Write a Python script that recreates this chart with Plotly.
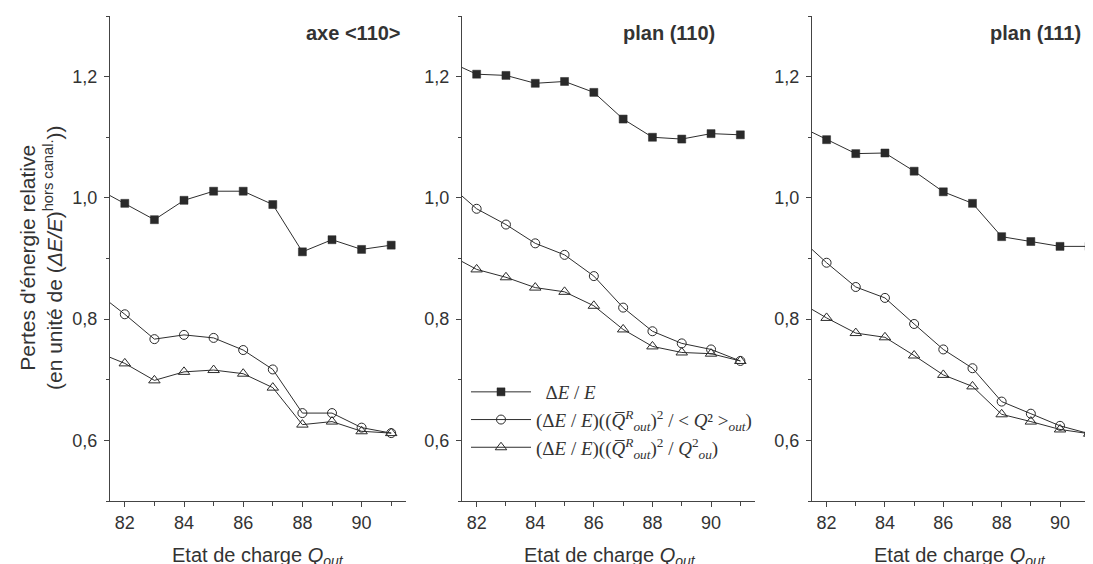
import plotly.graph_objects as go

# ---- data ----
charge = [81, 82, 83, 84, 85, 86, 87, 88, 89, 90, 91]

axe110_dE = [1.017, 0.991, 0.964, 0.996, 1.011, 1.011, 0.989, 0.911, 0.931, 0.915, 0.922]
axe110_q2 = [0.846, 0.808, 0.767, 0.774, 0.769, 0.749, 0.717, 0.645, 0.645, 0.621, 0.612]
axe110_qm = [0.747, 0.727, 0.699, 0.713, 0.716, 0.710, 0.687, 0.626, 0.631, 0.615, 0.612]

plan110_dE = [1.226, 1.204, 1.202, 1.189, 1.192, 1.174, 1.130, 1.100, 1.097, 1.106, 1.104]
plan110_q2 = [1.024, 0.982, 0.956, 0.925, 0.906, 0.871, 0.819, 0.780, 0.760, 0.750, 0.731]
plan110_qm = [0.908, 0.882, 0.869, 0.852, 0.845, 0.822, 0.783, 0.755, 0.745, 0.743, 0.731]

plan111_dE = [1.120, 1.096, 1.073, 1.074, 1.044, 1.010, 0.991, 0.936, 0.928, 0.920, 0.920]
plan111_q2 = [0.937, 0.893, 0.853, 0.835, 0.792, 0.750, 0.719, 0.664, 0.644, 0.624, 0.611]
plan111_qm = [0.830, 0.802, 0.777, 0.770, 0.740, 0.708, 0.689, 0.643, 0.631, 0.618, 0.611]

panel_titles = ["axe &lt;110&gt;", "plan (110)", "plan (111)"]
series_names = [
    "\u00a0\u00a0\u0394<i>E</i> / <i>E</i><sub>\u00a0</sub>",
    "(\u0394<i>E</i> / <i>E</i>)((<i>Q\u0305</i><sup><i>R</i></sup><sub><i>out</i></sub>)<sup>2</sup> / &lt; <i>Q</i>\u00b2 &gt;<sub><i>out</i></sub>)",
    "(\u0394<i>E</i> / <i>E</i>)((<i>Q\u0305</i><sup><i>R</i></sup><sub><i>out</i></sub>)<sup>2</sup> / <i>Q</i><sup>2</sup><sub><i>ou</i></sub>)",
]
y_ticks = [0.6, 0.8, 1.0, 1.2]
x_ticks = [82, 84, 86, 88, 90]

panels = [
    (axe110_dE, axe110_q2, axe110_qm),
    (plan110_dE, plan110_q2, plan110_qm),
    (plan111_dE, plan111_q2, plan111_qm),
]

# page body has an 8px margin: the figure starts at (8, 8) in the window
OFF = 8
W, H = 1093 - OFF, 564 - OFF


def px(x):
    return (x - OFF) / W


def py(y):
    return 1 - (y - OFF) / H


x_pix = [(110, 406), (462, 755), (812, 1093)]
x_ranges = [[81.5, 91.5], [81.5, 91.5], [81.5, 91.13]]
y_top, y_bot = 16, 501

INK = "#333333"
LINE = "#2e2e2e"
SANS = "Liberation Sans, Arial, sans-serif"
SERIF = "Liberation Serif, Times New Roman, serif"

fig = go.Figure()

marker_styles = [
    dict(symbol="square", size=8, color="#2a2a2a", line=dict(color="#2a2a2a", width=0.5)),
    dict(symbol="circle-open", size=9, color="#2a2a2a", line=dict(width=1)),
    dict(symbol="triangle-up-open", size=10, color="#2a2a2a", line=dict(width=1)),
]

for i, series in enumerate(panels):
    ax = "" if i == 0 else str(i + 1)
    for j, vals in enumerate(series):
        fig.add_trace(go.Scatter(
            x=charge, y=vals, mode="lines+markers",
            xaxis="x" + ax, yaxis="y" + ax,
            line=dict(color=LINE, width=1),
            marker=marker_styles[j],
            name=series_names[j],
            showlegend=(i == 1),
        ))

layout = dict(
    width=W, height=H,
    margin=dict(l=0, r=0, t=0, b=0),
    paper_bgcolor="white", plot_bgcolor="white",
    separators=", ",
    font=dict(family=SANS, color=INK, size=18),
    legend=dict(
        x=px(466), y=py(373), xanchor="left", yanchor="top",
        bgcolor="rgba(0,0,0,0)",
        font=dict(family=SERIF, size=19, color=INK),
        itemwidth=60, tracegroupgap=0,
    ),
)

annotations = []
for i in range(3):
    ax = "" if i == 0 else str(i + 1)
    xd = [px(x_pix[i][0]), min(1.0, px(x_pix[i][1]))]
    yd = [py(y_bot), py(y_top)]
    layout["xaxis" + ax] = dict(
        domain=xd, range=x_ranges[i], anchor="y" + ax,
        showline=True, linecolor="#444", linewidth=1.3,
        showgrid=False, zeroline=False,
        tickmode="array", tickvals=x_ticks,
        ticks="outside", ticklen=5, tickcolor="#444", tickwidth=1.2,
        tickfont=dict(size=18, color=INK),
        minor=dict(tickmode="linear", tick0=81, dtick=1, ticks="outside",
                   ticklen=4, tickcolor="#444", tickwidth=1.2),
    )
    layout["yaxis" + ax] = dict(
        domain=yd, range=[0.5, 1.3], anchor="x" + ax,
        showline=True, linecolor="#444", linewidth=1.3,
        showgrid=False, zeroline=False,
        tickmode="array", tickvals=y_ticks, tickformat=".1f",
        ticks="outside", ticklen=5, tickcolor="#444", tickwidth=1.2,
        tickfont=dict(size=18, color=INK),
        ticklabelstandoff=3,
        minor=dict(tickmode="linear", tick0=0.5, dtick=0.1, ticks="outside",
                   ticklen=3, tickcolor="#444", tickwidth=1.2),
    )
    # panel title
    right = {0: 403, 1: 717, 2: 1083}[i]
    annotations.append(dict(
        text="<b>" + panel_titles[i] + "</b>", x=px(right), y=py(33),
        xref="paper", yref="paper", xanchor="right", yanchor="middle",
        showarrow=False, font=dict(size=20, color=INK, family=SANS),
    ))
    # x axis title
    cx = px((x_pix[i][0] + (x_pix[i][0] + 296)) / 2)
    annotations.append(dict(
        text="Etat de charge <i>Q</i><sub><i>out</i></sub>", x=cx, y=py(542),
        xref="paper", yref="paper", xanchor="center", yanchor="top",
        showarrow=False, font=dict(size=20, color=INK, family=SANS),
    ))

annotations.append(dict(
    text="Pertes d'énergie relative<br>(en unité de (<i>\u0394E/E</i>)<sup>hors canal.</sup>))",
    x=px(41), y=py(258), xref="paper", yref="paper",
    xanchor="center", yanchor="middle", textangle=-90,
    showarrow=False, font=dict(size=21, color=INK, family=SANS),
))
layout["annotations"] = annotations

fig.update_layout(**layout)
fig.write_html("out.html")
